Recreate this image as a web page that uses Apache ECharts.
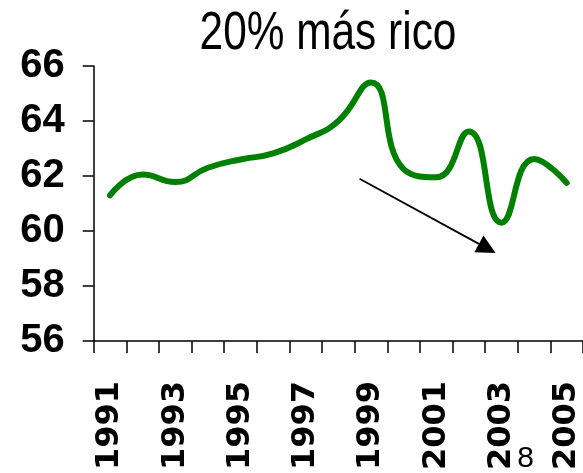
<!DOCTYPE html>
<html>
<head>
<meta charset="utf-8">
<script src="https://cdn.jsdelivr.net/npm/echarts@6/dist/echarts.min.js"></script>
<style>
  html, body { margin: 0; padding: 0; background: #ffffff; }
  #chart { width: 583px; height: 473px; }
</style>
</head>
<body>
<div id="chart"></div>
<script>
// Income share of the richest 20%, yearly
const years = ['1991', '1992', '1993', '1994', '1995', '1996', '1997', '1998',
               '1999', '2000', '2001', '2002', '2003', '2004', '2005'];
const shareTop20 = [61.3, 62.05, 61.78, 62.3, 62.6, 62.82, 63.33, 64.0,
                    65.4, 62.25, 61.95, 63.62, 60.3, 62.62, 61.75];

// Value axis range and step
const yMin = 56;
const yMax = 66;
const yStep = 2;

// Trend arrow, in axis units: [category index, value]
const trendFrom = [7.65, 61.9];
const trendTo = [11.82, 59.2];

const titleText = '20% más rico';
const pageNumber = '8';

const chart = echarts.init(document.getElementById('chart'), null, { renderer: 'canvas' });

const axisColor = '#000000';
const font = "'Liberation Sans', Arial, sans-serif";

chart.setOption({
  animation: false,
  backgroundColor: '#ffffff',
  grid: {
    left: 93.7,
    right: -4.2,
    top: 66,
    bottom: 129.5,
    containLabel: false
  },
  xAxis: {
    type: 'category',
    data: years,
    boundaryGap: true,
    axisLine: { lineStyle: { color: axisColor, width: 1.5 } },
    axisTick: { show: true, interval: 0, length: 12, inside: false,
                lineStyle: { color: axisColor, width: 1.5 } },
    axisLabel: {
      interval: 1,
      rotate: 90,
      margin: 40,
      fontFamily: "'DejaVu Sans', " + font,
      fontSize: 32,
      fontWeight: 'bold',
      color: '#000000'
    },
    splitLine: { show: false }
  },
  yAxis: {
    type: 'value',
    min: yMin,
    max: yMax,
    interval: yStep,
    axisLine: { show: true, lineStyle: { color: axisColor, width: 1.5 } },
    axisTick: { show: true, length: 11, inside: false,
                lineStyle: { color: axisColor, width: 1.5 } },
    axisLabel: {
      margin: 29,
      fontFamily: font,
      fontSize: 40,
      fontWeight: 'bold',
      color: '#000000'
    },
    splitLine: { show: false }
  },
  series: [{
    type: 'line',
    data: shareTop20,
    smooth: 0.5,
    symbol: 'none',
    lineStyle: { color: '#008000', width: 6, cap: 'round', join: 'round' },
    z: 3
  }]
});

// Map a (possibly fractional) category index and a value to pixels
function toPixel(pt) {
  const i0 = Math.floor(pt[0]);
  const f = pt[0] - i0;
  const x0 = chart.convertToPixel({ xAxisIndex: 0 }, i0);
  const x1 = chart.convertToPixel({ xAxisIndex: 0 }, i0 + 1);
  const y = chart.convertToPixel({ yAxisIndex: 0 }, pt[1]);
  return [x0 + (x1 - x0) * f, y];
}

const a = toPixel(trendFrom);
const b = toPixel(trendTo);
const dx = b[0] - a[0], dy = b[1] - a[1];
const len = Math.sqrt(dx * dx + dy * dy);
const ux = dx / len, uy = dy / len;
const headLen = 19, headHalf = 9.5;
const base = [b[0] - ux * headLen, b[1] - uy * headLen];

chart.setOption({
  graphic: [
    {
      // condensed title
      type: 'text',
      x: 328,
      y: 8,
      scaleX: 0.8,
      scaleY: 1,
      style: {
        text: titleText,
        fontFamily: font,
        fontSize: 53,
        fontWeight: 'normal',
        fill: '#000000',
        align: 'center',
        verticalAlign: 'top'
      },
      z: 20
    },
    {
      type: 'line',
      shape: { x1: a[0], y1: a[1], x2: base[0], y2: base[1] },
      style: { stroke: '#000000', lineWidth: 1.8 },
      z: 10
    },
    {
      type: 'polygon',
      shape: { points: [
        b,
        [base[0] - uy * headHalf, base[1] + ux * headHalf],
        [base[0] + uy * headHalf, base[1] - ux * headHalf]
      ] },
      style: { fill: '#000000' },
      z: 10
    },
    {
      type: 'text',
      x: 525.5,
      y: 459,
      style: {
        text: pageNumber,
        fontFamily: font,
        fontSize: 30,
        fill: '#000000',
        align: 'center',
        verticalAlign: 'middle'
      },
      z: 20
    }
  ]
});
</script>
</body>
</html>
